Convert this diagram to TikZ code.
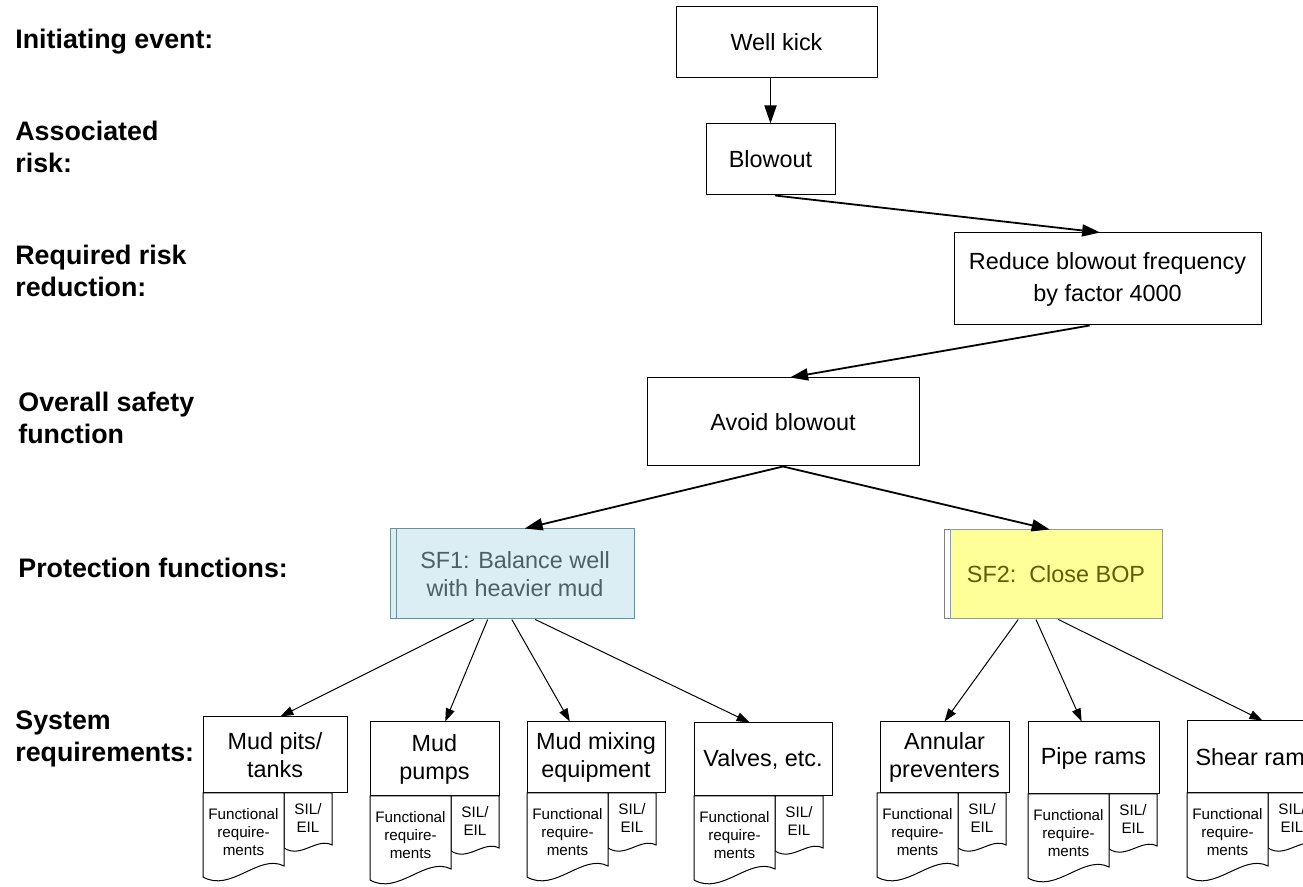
\documentclass[tikz,border=0pt]{standalone}
\usepackage{fontspec}
\setmainfont{Liberation Sans}
\usetikzlibrary{arrows.meta}
\definecolor{sfblue}{HTML}{DAEEF3}
\definecolor{sfblueline}{HTML}{6F8F97}
\definecolor{sfbluetext}{HTML}{4E5F65}
\definecolor{sfyellow}{HTML}{FFFF99}
\definecolor{sfyellowline}{HTML}{8E9C9E}
\definecolor{sfyellowtext}{HTML}{5E5E05}

\begin{document}
\begin{tikzpicture}[
    x=0.5pt, y=-0.5pt,
    every node/.style={font=\fontsize{11.7}{14}\selectfont, inner sep=0pt},
    box/.style={draw=black, fill=white, line width=0.5pt, align=center},
    lab/.style={anchor=west, align=left, font=\fontsize{13.4}{16}\selectfont\bfseries},
    doc/.style={draw=black, fill=white, line width=0.5pt},
    small/.style={align=center, font=\fontsize{7.6}{9}\selectfont},
    arr/.style={-{Triangle[length=9pt,width=6pt]}, line width=0.9pt},
    thinarr/.style={-{Triangle[length=6.5pt,width=4.5pt]}, line width=0.5pt}
  ]
  \useasboundingbox (0,0) rectangle (1303,887);
  \clip (0,0) rectangle (1303,887);

  % left column
  \node[lab] (levent) at (15,42) {Initiating event:};
  \node[lab] (lrisk) at (15,147) {Associated\\risk:};
  \node[lab] (lreduce) at (15,271) {Required risk\\reduction:};
  \node[lab] (loverall) at (18,418) {Overall safety\\function};
  \node[lab] (lprot) at (18,568) {Protection functions:};
  \node[lab] (lsys) at (15,739) {System\\requirements:};

  % main chain
  \node[box, minimum width=100.5pt, minimum height=35.5pt] (kick) at (776.5,42.5) {Well kick};
  \node[box, minimum width=64.5pt, minimum height=35.5pt] (blowout) at (770.5,159.5) {Blowout};
  \node[box, minimum width=153.5pt, minimum height=46pt, font=\fontsize{11.7}{16}\selectfont] (reduce) at (1107.5,279) {Reduce blowout frequency\\by factor 4000};
  \node[box, minimum width=136pt, minimum height=44pt] (avoid) at (783,422) {Avoid blowout};

  % protection functions
  \node[box, draw=sfblueline, fill=sfblue, minimum width=119pt, minimum height=45pt] (sf1back) at (509,574) {};
  \node[box, draw=sfblueline, fill=sfblue, text=sfbluetext, minimum width=119pt, minimum height=45pt] (sf1) at (515,574) {SF1: Balance well\\with heavier mud};
  \node[box, draw=gray, fill=white, minimum width=106pt, minimum height=44.5pt] (sf2back) at (1050,574.5) {};
  \node[box, draw=sfyellowline, fill=sfyellow, text=sfyellowtext, minimum width=106pt, minimum height=44.5pt] (sf2) at (1056,574.5) {SF2:\ \ Close BOP};

  \draw[arr] (blowout.north |- kick.south) -- (blowout.north);
  \draw[arr] (blowout.277) -- (reduce.99);
  \draw[arr] (reduce.249) -- (avoid.81);
  \draw[arr] (avoid.south) -- (sf1.78);
  \draw[arr] (avoid.south) -- (sf2.98);

  % system requirements
  \node[box, minimum width=72pt, minimum height=38pt] (pits) at (275,755) {Mud pits/\\tanks};
  \node[box, minimum width=64.5pt, minimum height=37pt] (pumps) at (434.5,759) {Mud\\pumps};
  \node[box, minimum width=69pt, minimum height=35.5pt] (mixing) at (596,757.5) {Mud mixing\\equipment};
  \node[box, minimum width=69pt, minimum height=36.5pt] (valves) at (763,759.5) {Valves, etc.};
  \node[box, minimum width=64.5pt, minimum height=35.5pt] (annular) at (944.5,757.5) {Annular\\preventers};
  \node[box, minimum width=65.5pt, minimum height=36pt] (piperams) at (1093.5,758) {Pipe rams};
  \node[box, minimum width=69pt, minimum height=36pt] (shear) at (1256,757) {Shear rams};

  \foreach \x/\y [count=\i] in {203/793, 370/796, 527/793, 694/796, 877/793, 1028/794, 1187/793} {
    \draw[doc] (\x+81,\y) -- (\x+129,\y) -- (\x+129,\y+52) .. controls (\x+114,\y+44) and (\x+98,\y+66) .. (\x+81,\y+55) -- cycle;
    \draw[doc] (\x,\y) -- (\x+81,\y) -- (\x+81,\y+73) .. controls (\x+56,\y+60) and (\x+28,\y+100) .. (\x,\y+84) -- cycle;
    \node[small] (func\i) at (\x+40.5,\y+39) {Functional\\require-\\ments};
    \node[small] (sil\i) at (\x+105,\y+25) {SIL/\\EIL};
  }

  \draw[thinarr] (sf1.228) -- (pits.82);
  \draw[thinarr] (sf1.239) -- (pumps.74);
  \draw[thinarr] (sf1.266) -- (mixing.126);
  \draw[thinarr] (sf1.294) -- (valves.110);
  \draw[thinarr] (sf2.230) -- (annular.north);
  \draw[thinarr] (sf2.246) -- (piperams.108);
  \draw[thinarr] (sf2.273) -- (shear.80);
\end{tikzpicture}
\end{document}
